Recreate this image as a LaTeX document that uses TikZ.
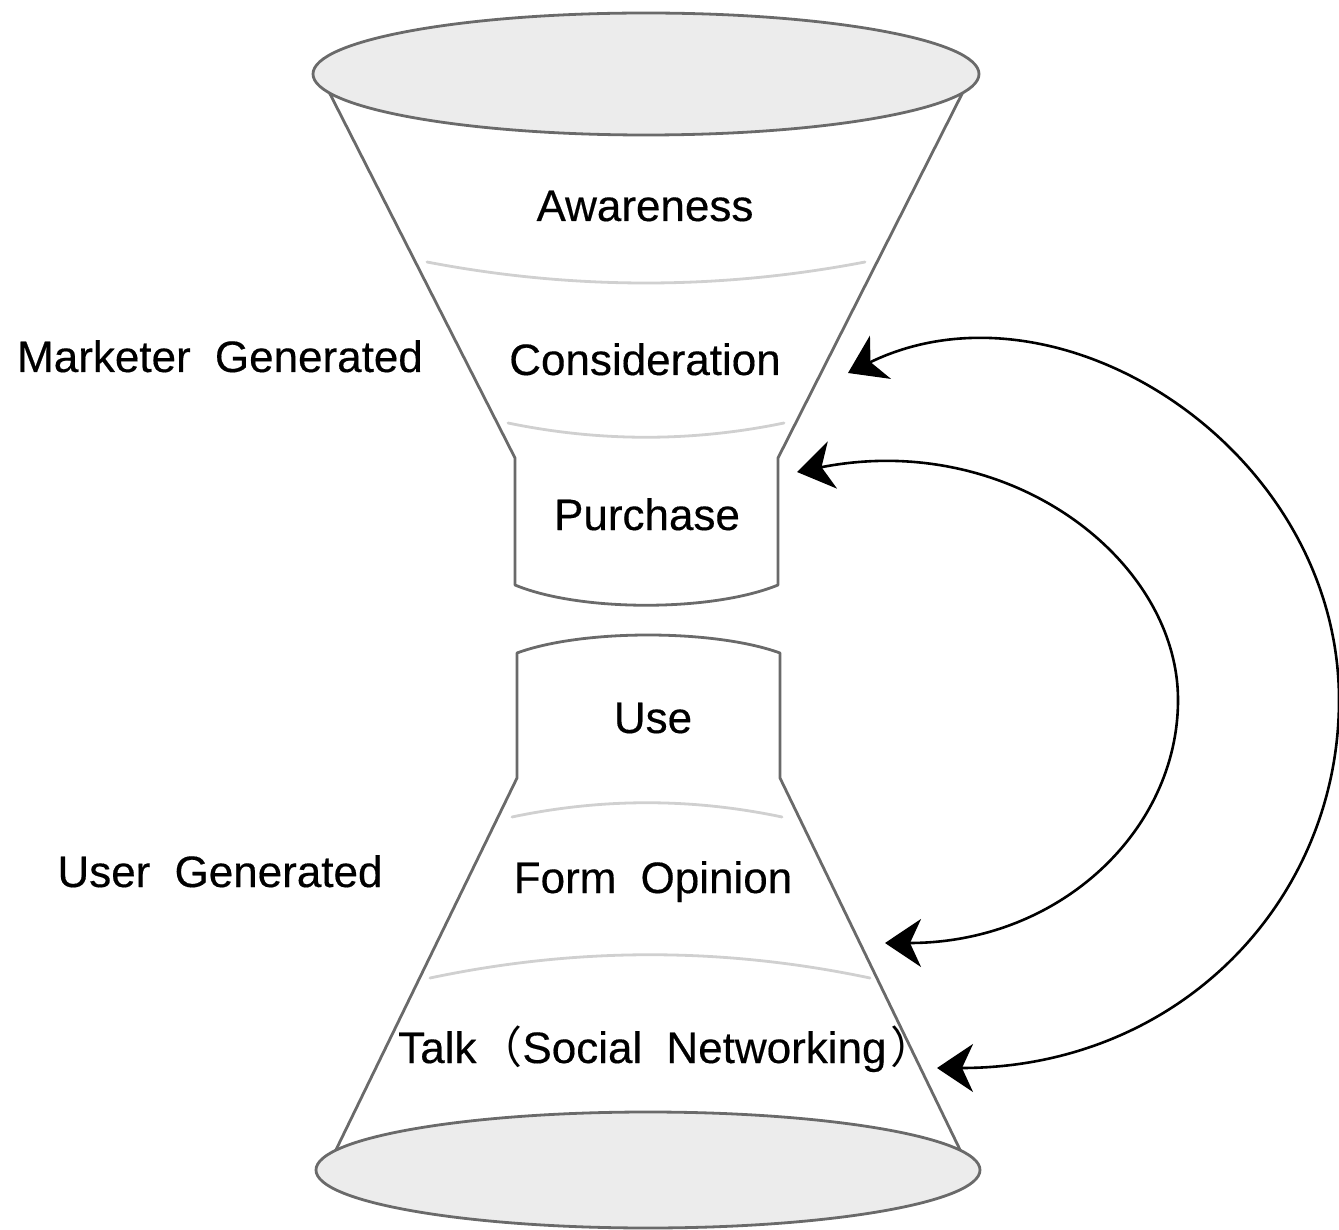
\documentclass[tikz,border=0pt]{standalone}
\usepackage{fontspec}
\setmainfont{Liberation Sans}
\newfontfamily\stagefam{Liberation Sans}[FakeBold=0.35]
\newfontfamily\cjk{Noto Sans CJK SC}
\usetikzlibrary{arrows.meta}

\definecolor{rim}{HTML}{6A6A6A}
\definecolor{band}{HTML}{D0D0D0}
\definecolor{lidfill}{HTML}{ECECEC}

\newcommand\stagefont{\stagefam\fontsize{44}{50}\selectfont\spaceskip=0.55em\relax}

\tikzset{headtip/.tip={Stealth[length=36pt, width=48pt, inset=11pt]}}

\begin{document}
\begin{tikzpicture}[x=1pt,y=-1pt,
  outline/.style={draw=rim, line width=2.8pt, line join=round},
  divider/.style={draw=band, line width=2.8pt, line cap=round},
  lid/.style={outline, fill=lidfill},
  stage/.style={font=\stagefont, text=black, inner sep=0pt, anchor=base},
  loop/.style={draw=black, line width=2.6pt, headtip-headtip}
]
\useasboundingbox (0,0) rectangle (1339,1230);

% upper funnel: cone and narrow neck
\draw[outline] (327,88) -- (515,458) -- (515,585)
  .. controls (580,612) and (712,612) .. (778,585) -- (778,458) -- (965,88);
\draw[lid] (646,74) ellipse [x radius=333, y radius=61];
\draw[divider] (427,262) .. controls (573,290) and (719,290) .. (865,262);
\draw[divider] (508,423) .. controls (600,442) and (692,442) .. (784,423);

% lower funnel: neck and widening cone
\draw[outline] (332,1158) -- (517,778) -- (517,653)
  .. controls (582,629) and (714,629) .. (780,653) -- (780,778) -- (964,1158);
\draw[lid] (648,1170) ellipse [x radius=332, y radius=58];
\draw[divider] (512,817) .. controls (602,798) and (692,798) .. (782,817);
\draw[divider] (430,978) .. controls (577,947) and (723,947) .. (870,978);

% stage names
\node[stage] (aw) at (645,221) {Awareness};
\node[stage] (co) at (645,375) {Consideration};
\node[stage] (pu) at (647,530) {Purchase};
\node[stage] (us) at (653,733) {Use};
\node[stage] (fo) at (653,893) {Form Opinion};
\node[stage, anchor=base west] (ta) at (398,1063)
  {Talk\hspace{2pt}{\cjk （}Social Networking\hspace{4pt}{\cjk ）}};

% side labels
\node[stage] (mg) at (220,372) {Marketer Generated};
\node[stage] (ug) at (220,887) {User Generated};

% feedback loops
\coordinate (ot) at (848,373);
\coordinate (ob) at (937,1068);
\coordinate (it) at (797,472);
\coordinate (ib) at (885,943);

\draw[loop] (ob) .. controls (1180,1068) and (1339,900) .. (1339,700)
  .. controls (1339,450) and (1060,270) .. (ot);
\draw[loop] (ib) .. controls (1060,943) and (1178,830) .. (1178,700)
  .. controls (1178,560) and (1010,430) .. (it);
\end{tikzpicture}
\end{document}
